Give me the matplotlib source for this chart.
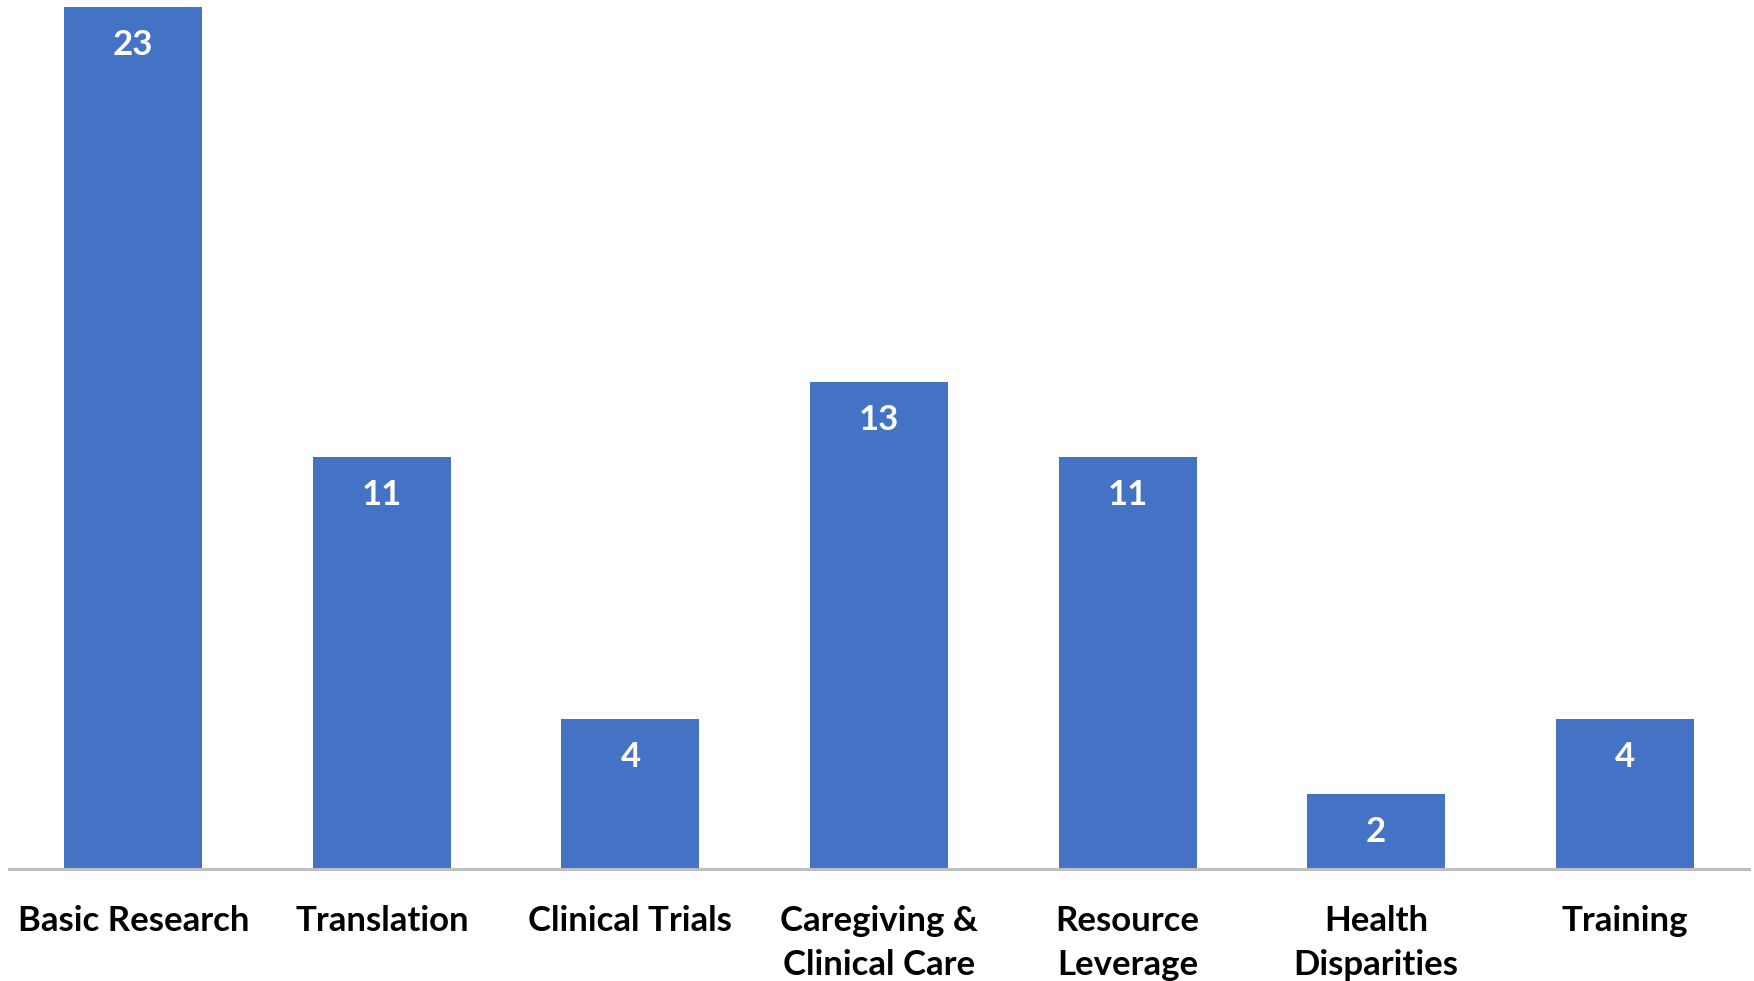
import numpy as np
import matplotlib
matplotlib.use("Agg")
from matplotlib import pyplot as plt

## data
categories = ["Basic Research", "Translation", "Clinical Trials",
              "Caregiving &\nClinical Care", "Resource\nLeverage",
              "Health\nDisparities", "Training"]
counts = [23, 11, 4, 13, 11, 2, 4]

plt.rcParams['font.family'] = ['Lato', 'DejaVu Sans']

fig = plt.figure(figsize=(17.54, 9.81), dpi=100)
ax = fig.add_axes([9/1754, 112/981, 1740/1754, (869-7)/981])

x = np.arange(len(categories))
bars = ax.bar(x, counts, width=0.555, color="#4472C4", zorder=2)

for b, v in zip(bars, counts):
    ax.text(b.get_x() + b.get_width()/2, v - 1.02, str(v), ha="center", va="center",
            color="white", fontsize=25, fontweight="bold")

ax.set_xlim(-0.5, len(categories) - 0.5)
ax.set_ylim(0, 23)
ax.set_xticks(x)
ax.set_xticklabels(categories, fontsize=25, fontweight="bold", linespacing=1.45)
ax.tick_params(axis="x", length=0, pad=26)
ax.set_yticks([])
for s in ["top", "right", "left"]:
    ax.spines[s].set_visible(False)
ax.spines["bottom"].set_color("#BFBFBF")
ax.spines["bottom"].set_linewidth(2.2)

fig.savefig("out.png", dpi=100)
